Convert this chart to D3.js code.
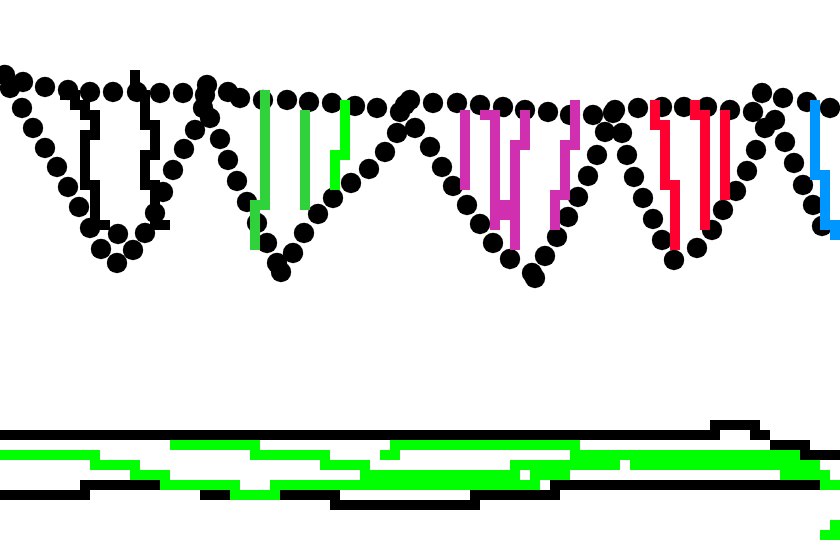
<!DOCTYPE html>
<html>
<head>
<meta charset="utf-8">
<script src="https://cdn.jsdelivr.net/npm/d3@7"></script>
<style>
  html, body { margin: 0; padding: 0; background: #ffffff; }
  svg { display: block; }
</style>
</head>
<body>
<script>
// Data in grid units (1 unit = one cell of the picture's grid)
const topRow = [[0.5,7.5],[2.3,8.2],[4.5,8.7],[6.8,9.0],[9.0,9.2],[11.3,9.2],[13.7,9.2],[16.0,9.3],[18.3,9.3],[20.7,8.5],[22.8,9.2],[24.0,9.8],[26.3,10.0],[28.7,10.0],[30.9,10.2],[33.2,10.3],[35.5,10.6],[37.7,10.8],[41.0,10.0],[43.3,10.3],[45.7,10.3],[48.0,10.5],[50.3,10.7],[52.5,11.0],[54.8,11.2],[57.0,11.5],[59.3,11.5],[61.5,11.0],[63.8,10.8],[66.2,10.7],[68.4,10.7],[70.7,10.7],[73.0,11.0],[76.2,9.3],[78.3,9.8],[80.7,10.2],[83.0,10.8]];

const wave = [[1.0,8.8],[2.2,10.8],[3.3,12.8],[4.5,14.8],[5.7,16.7],[6.8,18.7],[7.9,20.7],[9.0,22.8],[10.1,24.9],[11.7,26.3],[11.8,23.4],[13.3,25.0],[14.5,23.3],[15.5,21.3],[16.3,19.2],[17.3,17.0],[18.4,14.9],[19.5,13.0],[20.3,10.8],[20.5,9.5],[21.0,11.8],[22.0,13.9],[22.8,16.0],[23.7,18.1],[24.7,20.2],[25.7,22.3],[26.7,24.3],[27.7,26.3],[28.1,27.2],[29.3,25.3],[30.4,23.3],[31.8,21.4],[33.3,19.8],[35.1,18.3],[36.9,16.9],[38.5,15.2],[39.7,13.3],[40.0,11.2],[40.5,10.5],[41.5,12.8],[43.0,14.7],[44.2,16.7],[45.3,18.6],[46.7,20.5],[48.0,22.4],[49.3,24.3],[51.0,25.9],[53.2,27.3],[53.5,27.8],[54.5,25.6],[55.7,23.7],[56.8,21.7],[57.8,19.7],[58.8,17.6],[59.7,15.5],[60.5,13.2],[61.3,11.3],[62.2,13.3],[62.7,15.5],[63.4,17.7],[64.3,19.8],[65.3,21.9],[66.2,24.0],[67.4,26.0],[69.7,24.8],[71.2,23.0],[72.3,21.0],[73.6,19.1],[74.7,17.1],[75.6,15.0],[76.5,12.8],[75.3,11.2],[77.5,12.0],[78.5,14.2],[79.4,16.3],[80.3,18.5],[81.3,20.5],[82.2,22.6]];

// Upper step traces (step-after vertices) and their colours
const upperTraces = [
  [[6.5,9.5],[7.5,10.5],[8.5,11.5],[9.5,13.5],[8.5,18.5],[9.5,22.5],[10.5,22.5]],
  [[13.5,7.5],[13.5,9.5],[14.5,12.5],[15.5,15.5],[14.5,18.5],[15.5,22.5],[16.5,22.5]],
  [[26.5,9.5],[26.5,20.5],[25.5,24.5]],
  [[30.5,11.5],[30.5,20.5]],
  [[34.5,10.5],[34.5,15.5],[33.5,18.5]],
  [[46.5,11.5],[46.5,18.5]],
  [[48.5,11.5],[49.5,22.5]],
  [[52.5,11.5],[52.5,14.5],[51.5,20.5],[50.5,21.5],[51.5,24.5]],
  [[57.5,10.5],[57.5,14.5],[56.5,19.5],[55.5,22.5]],
  [[65.5,10.5],[65.5,12.5],[66.5,18.5],[67.5,24.5]],
  [[69.5,10.5],[69.5,11.5],[70.5,22.5]],
  [[72.5,11.5],[72.5,19.5]],
  [[81.5,10.5],[81.5,17.5],[82.5,22.5],[83.5,23.5]]
];
const upperColors = ["#000000","#000000","#2fd23a","#2fd23a","#00ff00","#d030b0","#d030b0","#d030b0","#d030b0","#ff0030","#ff0030","#ff0030","#0096ff"];

// Lower step traces
const lowerBlack = [
  [[0,43.5],[71.5,42.5],[75.5,43.5],[76.5,43.5]],
  [[77.5,44.5],[80.5,45.5],[84.5,45.5]],
  [[0,49.5],[8.5,48.5],[20.5,49.5],[33.5,50.5],[47.5,49.5],[55.5,48.5],[81.5,48.5]]
];
const lowerGreen = [
  [[0,45.5],[9.5,46.5],[13.5,47.5],[16.5,48.5],[23.5,49.5],[27.5,48.5],[53.5,47.5],[56.5,46.5],[61.5,45.5],[79.5,46.5],[81.5,46.5]],
  [[17.5,44.5],[25.5,45.5],[32.5,46.5],[36.5,47.5],[51.5,46.5],[56.5,46.5]],
  [[38.5,45.5],[39.5,44.5],[57.5,45.5],[63.5,46.5],[78.5,47.5],[82.5,48.5],[84.5,48.5]],
  [[82.5,53.5],[83.5,52.5],[84.5,52.5]]
];

const W = 840, H = 560;
const x = d3.scaleLinear().domain([0, 84]).range([0, W]);
const y = d3.scaleLinear().domain([0, 56]).range([0, H]);
const unit = x(1) - x(0);

const svg = d3.select("body").append("svg").attr("width", W).attr("height", H);

const line = d3.line().x(d => x(d[0])).y(d => y(d[1])).curve(d3.curveStepAfter);

// circles
svg.append("g").selectAll("circle")
  .data(topRow.concat(wave))
  .join("circle")
  .attr("cx", d => x(d[0]))
  .attr("cy", d => y(d[1]))
  .attr("r", unit * 1.02)
  .attr("fill", "#000");

// upper traces
svg.append("g").selectAll("path")
  .data(upperTraces)
  .join("path")
  .attr("d", line)
  .attr("fill", "none")
  .attr("stroke", (d, i) => upperColors[i])
  .attr("stroke-width", unit)
  .attr("stroke-linecap", "square")
  .attr("stroke-linejoin", "miter")
  .attr("shape-rendering", "crispEdges");

// lower traces: black beneath, green above
svg.append("g").selectAll("path")
  .data(lowerBlack)
  .join("path")
  .attr("d", line)
  .attr("fill", "none")
  .attr("stroke", "#000")
  .attr("stroke-width", unit)
  .attr("stroke-linecap", "square")
  .attr("stroke-linejoin", "miter")
  .attr("shape-rendering", "crispEdges");

svg.append("g").selectAll("path")
  .data(lowerGreen)
  .join("path")
  .attr("d", line)
  .attr("fill", "none")
  .attr("stroke", "#00ff00")
  .attr("stroke-width", unit)
  .attr("stroke-linecap", "square")
  .attr("stroke-linejoin", "miter")
  .attr("shape-rendering", "crispEdges");
</script>
</body>
</html>
